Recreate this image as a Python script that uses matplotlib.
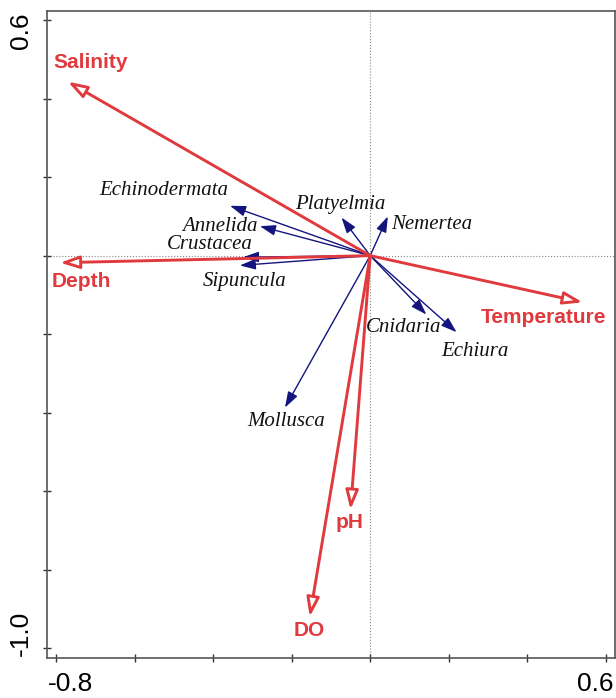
import numpy as np
import matplotlib.pyplot as plt
import matplotlib.transforms as mtransforms

# environmental variables (RDA biplot scores)
env_names = ['Salinity', 'Depth', 'Temperature', 'pH', 'DO']
env_x = [-0.770, -0.790, 0.541, -0.050, -0.154]
env_y = [0.443, -0.018, -0.119, -0.647, -0.920]

# taxa scores
taxa_names = ['Echinodermata', 'Annelida', 'Crustacea', 'Sipuncula', 'Platyelmia',
              'Nemertea', 'Cnidaria', 'Echiura', 'Mollusca']
taxa_x = [-0.357, -0.281, -0.324, -0.332, -0.073, 0.045, 0.143, 0.220, -0.217]
taxa_y = [0.127, 0.075, -0.004, -0.025, 0.097, 0.100, -0.150, -0.195, -0.387]

# where each label sits
env_lab = [(-0.711, 0.492), (-0.737, -0.066), (0.442, -0.158), (-0.052, -0.680), (-0.154, -0.955)]
taxa_lab = [(-0.525, 0.166), (-0.383, 0.074), (-0.408, 0.028), (-0.319, -0.066), (-0.075, 0.130),
            (0.157, 0.079), (0.085, -0.183), (0.266, -0.245), (-0.215, -0.423)]

red = '#E03A3E'
navy = '#14147F'

fig = plt.figure(figsize=(6.16, 6.98), dpi=100)
ax = fig.add_axes([0.0758, 0.0573, 0.998 - 0.0758, 0.9847 - 0.0573])

ax.axhline(0, color='#888888', lw=0.8, ls=':', zorder=0)
ax.axvline(0, color='#888888', lw=0.8, ls=':', zorder=0)

for x, y in zip(taxa_x, taxa_y):
    ax.annotate('', xy=(x, y), xytext=(0, 0),
                arrowprops=dict(arrowstyle='-|>,head_length=0.95,head_width=0.32',
                                mutation_scale=10, color=navy, lw=1.0,
                                shrinkA=0, shrinkB=0), zorder=2)

for x, y in zip(env_x, env_y):
    ax.annotate('', xy=(x, y), xytext=(0, 0),
                arrowprops=dict(arrowstyle='-|>,head_length=1.15,head_width=0.38',
                                mutation_scale=10, fc='white', ec=red, lw=2.1,
                                shrinkA=0, shrinkB=0), zorder=3)

for name, (lx, ly) in zip(taxa_names, taxa_lab):
    ax.text(lx, ly, name, ha='center', va='center', fontsize=15,
            family='Liberation Serif', style='italic', color='#111111', zorder=4)

for name, (lx, ly) in zip(env_names, env_lab):
    ax.text(lx, ly, name, ha='center', va='center', fontsize=15,
            family='Liberation Sans', weight='bold', color=red, zorder=4)

ax.set_xlim(-0.824, 0.623)
ax.set_ylim(-1.025, 0.624)

ax.set_xticks(np.arange(-0.8, 0.61, 0.2))
ax.set_yticks(np.arange(-1.0, 0.61, 0.2))
xl = ['' for _ in ax.get_xticks()]
xl[0], xl[-1] = '-0.8', '0.6'
yl = ['' for _ in ax.get_yticks()]
yl[0], yl[-1] = '-1.0', '0.6'
ax.set_xticklabels(xl)
ax.set_yticklabels(yl)

ax.tick_params(direction='inout', length=6, width=1, color='#333333',
               labelsize=19, pad=7)
for lab in ax.get_xticklabels() + ax.get_yticklabels():
    lab.set_family('Liberation Sans')

# keep the end labels inside the frame
xls = ax.get_xticklabels()
xls[0].set_ha('left')
xls[0].set_transform(xls[0].get_transform() + mtransforms.ScaledTranslation(-8/100, 0, fig.dpi_scale_trans))
xls[-1].set_ha('right')
xls[-1].set_transform(xls[-1].get_transform() + mtransforms.ScaledTranslation(8/100, 0, fig.dpi_scale_trans))
yls = ax.get_yticklabels()
for lab in yls:
    lab.set_rotation(90)
yls[0].set_va('bottom')
yls[0].set_transform(yls[0].get_transform() + mtransforms.ScaledTranslation(0, -8/100, fig.dpi_scale_trans))
yls[-1].set_va('top')
yls[-1].set_transform(yls[-1].get_transform() + mtransforms.ScaledTranslation(0, 8/100, fig.dpi_scale_trans))

for s in ax.spines.values():
    s.set_color('#555555')
    s.set_linewidth(1.2)

fig.savefig('out.png', dpi=100)
